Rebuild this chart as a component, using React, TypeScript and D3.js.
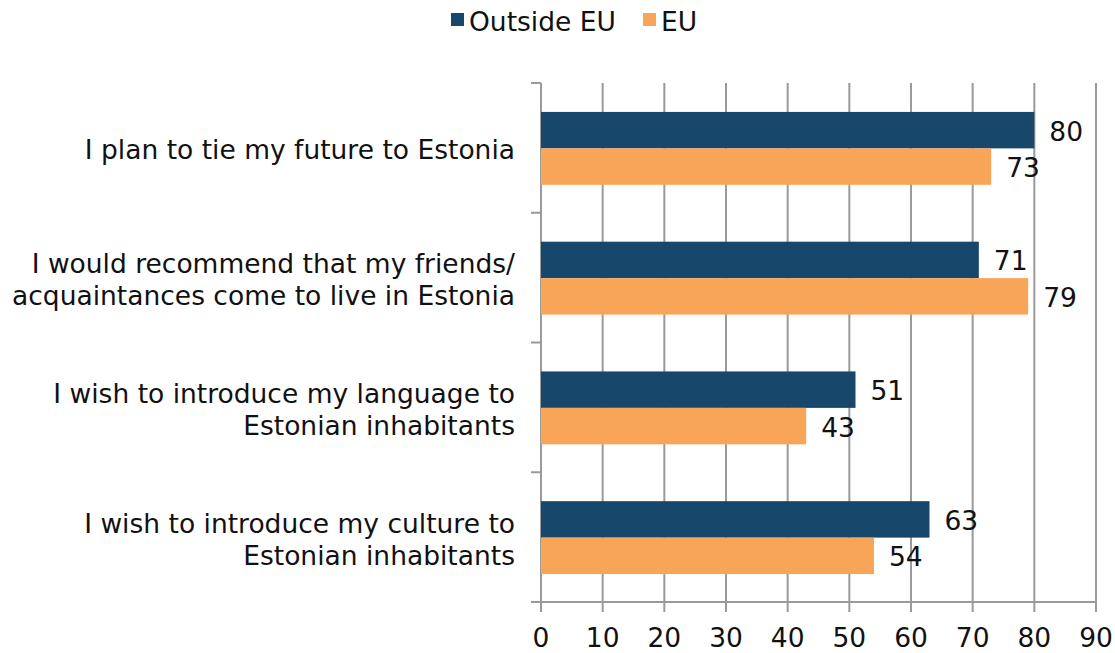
import React from "react";
import * as d3 from "d3";

const categories: string[][] = [
  ["I plan to tie my future to Estonia"],
  ["I would recommend that my friends/", "acquaintances come to live in Estonia"],
  ["I wish to introduce my language to", "Estonian inhabitants"],
  ["I wish to introduce my culture to", "Estonian inhabitants"],
];
const seriesNames = ["Outside EU", "EU"];
const outsideEU = [80, 71, 51, 63];
const eu = [73, 79, 43, 54];
const xTicks = [0, 10, 20, 30, 40, 50, 60, 70, 80, 90];
const colors = ["#17476b", "#f9a557"];

export default function App() {
  const W = 1115, H = 653;
  const left = 541, right = 1096, top = 83, bottom = 602;
  const font = "DejaVu Sans, Verdana, sans-serif";
  const fs = 26.5;
  const x = d3.scaleLinear().domain([0, 90]).range([left, right]);
  const y = d3.scaleBand<number>().domain([0, 1, 2, 3]).range([top, bottom]);
  const inner = d3.scaleBand<number>().domain([0, 1]).range([0, y.bandwidth()]).paddingInner(0).paddingOuter(0.78);
  const series = [outsideEU, eu];
  const grid = "#9a9a9a";
  return (
    <svg width={W} height={H} style={{ position: "absolute", left: 0, top: 0 }} fontFamily={font}>
      <rect width={W} height={H} fill="#fff" />
      {xTicks.map((t) => (
        <g key={t}>
          <line x1={x(t)} x2={x(t)} y1={top} y2={bottom + 10} stroke={grid} strokeWidth={2} />
          <text x={x(t)} y={647} fontSize={fs} textAnchor="middle" fill="#111">{t}</text>
        </g>
      ))}
      {[0, 1, 2, 3, 4].map((i) => {
        const yy = i < 4 ? y(i)! : bottom;
        return <line key={i} x1={left - 10} x2={left} y1={yy} y2={yy} stroke={grid} strokeWidth={2} />;
      })}
      <line x1={left} x2={left} y1={top} y2={bottom} stroke={grid} strokeWidth={2} />
      <line x1={left - 10} x2={right} y1={bottom} y2={bottom} stroke={grid} strokeWidth={2} />
      {categories.map((lines, ci) => {
        const cy = y(ci)! + y.bandwidth() / 2 + 2;
        const lh = 32;
        const startY = cy - ((lines.length - 1) * lh) / 2;
        return (
          <g key={ci}>
            {series.map((vals, si) => {
              const by = y(ci)! + inner(si)! + 0.5;
              const bh = inner.bandwidth();
              return (
                <g key={si}>
                  <rect x={x(0)} y={by} width={x(vals[ci]) - x(0)} height={bh} fill={colors[si]} />
                  <text x={x(vals[ci]) + 15} y={by + bh / 2 + 1} dy="0.36em" fontSize={fs} fill="#111">{vals[ci]}</text>
                </g>
              );
            })}
            {lines.map((l, li) => (
              <text key={li} x={515} y={startY + li * lh} dy="0.36em" fontSize={fs} textAnchor="end" fill="#111">{l}</text>
            ))}
          </g>
        );
      })}
      <g>
        <rect x={451} y={13} width={13} height={13} fill={colors[0]} />
        <text x={469} y={21} dy="0.36em" fontSize={fs} fill="#111">{seriesNames[0]}</text>
        <rect x={643} y={13} width={13} height={13} fill={colors[1]} />
        <text x={661} y={21} dy="0.36em" fontSize={fs} fill="#111">{seriesNames[1]}</text>
      </g>
    </svg>
  );
}
